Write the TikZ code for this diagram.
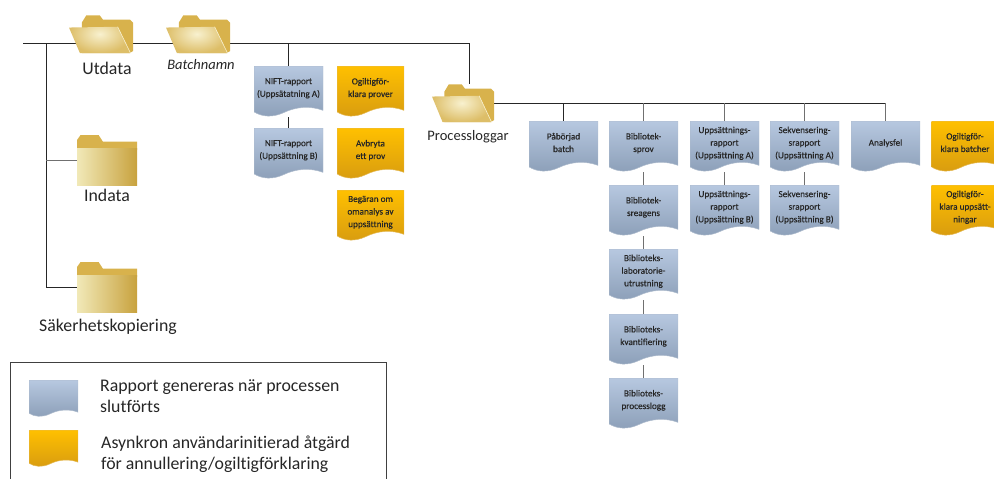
\documentclass[tikz,border=0pt]{standalone}
\usepackage{fontspec}
\setmainfont[Ligatures=NoCommon]{Carlito}
\newfontfamily\docfont[Ligatures=NoCommon,FakeBold=0.35]{Carlito}
\usetikzlibrary{backgrounds,calc}

\definecolor{repTop}{HTML}{B7C8E0}
\definecolor{repBottom}{HTML}{8C9FB8}
\definecolor{actTop}{HTML}{FFC000}
\definecolor{actBottom}{HTML}{D89C10}
\definecolor{folderBack}{HTML}{D8B24C}
\definecolor{folderEdge}{HTML}{DDBE68}
\definecolor{folderGlow}{HTML}{F8F1CF}
\definecolor{folderLight}{HTML}{F1E9B8}
\definecolor{folderDark}{HTML}{C8A23E}
\definecolor{treeGray}{HTML}{707070}

\tikzset{
  docbase/.style n args={4}{minimum width=#1, minimum height=#2, inner sep=0pt, align=center,
    text=black!85, text depth=8pt, font=\docfont\fontsize{9.2}{12.6}\selectfont,
    path picture={
      \begin{scope}[x=#1pt, y=-#2pt]
        \coordinate (o) at (path picture bounding box.north west);
        \shade[top color=#3, bottom color=#4, draw=#4!70!white, line width=0.5pt]
          (o) -- +(1,0) -- +(1,.87) .. controls ($(o)+(.82,.78)$) and ($(o)+(.62,.79)$) .. ($(o)+(.42,.92)$)
          .. controls ($(o)+(.27,1.01)$) and ($(o)+(.12,1.0)$) .. ($(o)+(0,.9)$) -- cycle;
      \end{scope}}},
  repdoc/.style={docbase={69}{51}{repTop}{repBottom}},
  actdoc/.style={docbase={67}{51}{actTop}{actBottom}},
  openfolder/.style={minimum width=#1, minimum height=38, inner sep=0pt,
    path picture={
      \begin{scope}[x=#1pt, y=-38pt]
        \coordinate (o) at (path picture bounding box.north west);
        \fill[folderBack] (o) +(.2,.2) -- +(.27,.01) -- +(.48,.01) -- +(.53,.12) -- +(.95,.12)
          -- +(1,.2) -- +(1,.95) -- +(.95,1) -- +(.2,1) -- cycle;
        \shade[inner color=folderGlow, outer color=folderEdge] (o) +(0,.33) -- +(.76,.31) -- +(.96,1) -- +(.17,1) -- cycle;
        \draw[folderGlow, line width=0.6pt] (o) +(.76,.31) -- +(.96,1);
      \end{scope}}},
  closedfolder/.style={minimum width=60, minimum height=50, inner sep=0pt,
    path picture={
      \begin{scope}[x=60pt, y=-50pt]
        \coordinate (o) at (path picture bounding box.north west);
        \fill[folderBack] (o) +(0,.3) -- +(0,.1) -- +(.06,0) -- +(.36,0) -- +(.43,.13) -- +(1,.13) -- +(1,.3) -- cycle;
        \shade[left color=folderLight, right color=folderDark] (o) +(0,.27) rectangle +(1,1);
      \end{scope}}},
  folderlabel/.style={inner sep=0pt, font=\fontsize{17.8}{20}\selectfont, text=black!85},
  legendtext/.style={inner sep=0pt, anchor=west, align=left, font=\fontsize{17.8}{21}\selectfont, text=black!85},
  treeline/.style={draw=black!85, line width=0.9pt},
  grayline/.style={draw=treeGray, line width=0.9pt}
}

\begin{document}
\begin{tikzpicture}[x=1pt, y=-1pt]

  \path[use as bounding box, clip] (0,0) rectangle (994,479);

  % Folders
  \node[openfolder=64] (utdata) at (101,34) {};
  \node[openfolder=64] (batch) at (198,34) {};
  \node[openfolder=62] (processlog) at (463,103) {};
  \node[closedfolder] (indata) at (107,160) {};
  \node[closedfolder] (backup) at (107,287) {};

  \node[folderlabel] (utdatatext) at (107,68) {Utdata};
  \node[folderlabel, font=\fontsize{14.5}{17}\selectfont\itshape] (batchtext) at (201,65) {Batchnamn};
  \node[folderlabel, font=\fontsize{14.5}{18}\selectfont] (processtext) at (468,137) {Processloggar};
  \node[folderlabel] (indatatext) at (107,195) {Indata};
  \node[folderlabel] (backuptext) at (108,327) {Säkerhetskopiering};

  % NIFT reports and actions under the batch
  \node[repdoc] (nifta) at (288.5,91.5) {NIFT-rapport\\(Uppsätatning A)};
  \node[repdoc] (niftb) at (288.5,153.5) {NIFT-rapport\\(Uppsättning B)};
  \node[actdoc] (voidsample) at (370.5,91.5) {Ogiltigför-\\klara prover};
  \node[actdoc] (abortsample) at (370.5,153.5) {Avbryta\\ett prov};
  \node[actdoc] (reanalysis) at (370.5,215.5) {Begäran om\\omanalys av\\uppsättning};

  % Process logs
  \node[repdoc] (started) at (563.5,146.5) {Påbörjad\\batch};
  \node[repdoc] (libsample) at (643.5,146.5) {Bibliotek-\\sprov};
  \node[repdoc] (libreagent) at (643.5,210.5) {Bibliotek-\\sreagens};
  \node[repdoc] (libequip) at (643.5,274.5) {Biblioteks-\\laboratorie-\\utrustning};
  \node[repdoc] (libquant) at (643.5,339.5) {Biblioteks-\\kvantifiering};
  \node[repdoc] (liblog) at (643.5,403.5) {Biblioteks-\\processlogg};
  \node[repdoc] (setupa) at (724.5,146.5) {Uppsättnings-\\rapport\\(Uppsättning A)};
  \node[repdoc] (setupb) at (724.5,210.5) {Uppsättnings-\\rapport\\(Uppsättning B)};
  \node[repdoc] (seqa) at (804.5,146.5) {Sekvensering-\\srapport\\(Uppsättning A)};
  \node[repdoc] (seqb) at (804.5,210.5) {Sekvensering-\\srapport\\(Uppsättning B)};
  \node[repdoc] (failed) at (885.5,146.5) {Analysfel};
  \node[actdoc] (voidbatch) at (965,146.5) {Ogiltigför-\\klara batcher};
  \node[actdoc] (voidsetup) at (965,210.5) {Ogiltigför-\\klara uppsätt-\\ningar};

  % Legend
  \node[draw=black!75, line width=0.8pt, minimum width=376, minimum height=140, inner sep=0pt] (legendbox) at (198,432) {};
  \node[docbase={49}{37}{repTop}{repBottom}] (legendrep) at (53.5,398.5) {};
  \node[docbase={49}{37}{actTop}{actBottom}] (legendact) at (53.5,448.5) {};
  \node[legendtext] (legendreptext) at (100,396) {Rapport genereras när processen\\slutförts};
  \node[legendtext] (legendacttext) at (101,454) {Asynkron användarinitierad åtgärd\\för annullering/ogiltigförklaring};

  % Connectors
  \coordinate (rootstart) at (23,43);
  \coordinate (trunktop) at (46,43);
  \coordinate (processtop) at (469.5,43);
  \begin{scope}[on background layer]
    \draw[treeline] (rootstart) -- (processtop) -- (processtop |- processlog.north);
    \draw[treeline] (trunktop) -- (trunktop |- backup.west) -- (backup.west);
    \draw[grayline] (trunktop |- indata.west) -- (indata.west);
    \draw[treeline] (nifta.north |- rootstart) -- (nifta.north);
    \draw[treeline] (nifta) -- (niftb);
    \draw[treeline] (processlog.east) -- (failed.north |- processlog.east);
    \draw[treeline] (started.north |- processlog.east) -- (started.north);
    \foreach \docname in {libsample,setupa,seqa,failed}
      \draw[grayline] (\docname.north |- processlog.east) -- (\docname.north);
    \foreach \upper/\lower in {libsample/libreagent,libreagent/libequip,libequip/libquant,libquant/liblog,setupa/setupb,seqa/seqb}
      \draw[grayline] (\upper) -- (\lower);
  \end{scope}

\end{tikzpicture}
\end{document}
